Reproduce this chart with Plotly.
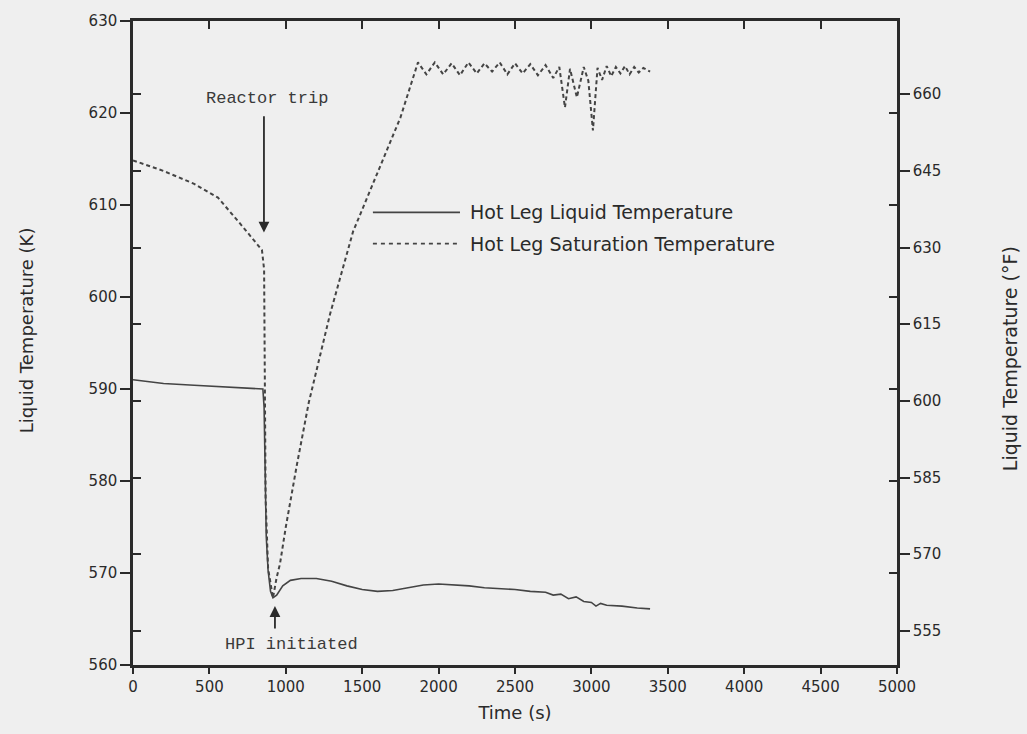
import plotly.graph_objects as go

# ---- data ----
liq_t = [0, 200, 400, 600, 850, 858, 864, 872, 884, 900, 916, 940, 980, 1030, 1100, 1200,
         1300, 1400, 1500, 1600, 1700, 1800, 1900, 2000, 2100, 2200, 2300, 2400, 2500, 2600,
         2700, 2750, 2800, 2850, 2900, 2950, 3000, 3030, 3060, 3100, 3200, 3300, 3384]
liq_k = [591.0, 590.6, 590.4, 590.2, 590.0, 588.0, 580.0, 574.0, 570.3, 568.0, 567.3, 567.6,
         568.6, 569.2, 569.4, 569.4, 569.1, 568.6, 568.2, 568.0, 568.1, 568.4, 568.7, 568.8,
         568.7, 568.6, 568.4, 568.3, 568.2, 568.0, 567.9, 567.6, 567.7, 567.2, 567.4, 566.9,
         566.8, 566.4, 566.7, 566.5, 566.4, 566.2, 566.1]

sat_t = [0, 200, 400, 556, 700, 844, 858, 862, 868, 884, 916, 940, 962, 1000, 1073, 1150,
         1289, 1440, 1600, 1750, 1865, 1920, 1975, 2030, 2085, 2140, 2195, 2250, 2300, 2350,
         2400, 2450, 2500, 2550, 2600, 2650, 2700, 2750, 2790, 2827, 2860, 2905, 2950, 2980,
         3010, 3040, 3070, 3100, 3130, 3160, 3190, 3220, 3250, 3280, 3310, 3340, 3384]
sat_k = [614.85, 613.7, 612.3, 610.8, 608.0, 605.1, 603.0, 590.0, 578.0, 570.5, 567.3, 569.5,
         571.0, 575.0, 581.8, 588.5, 598.1, 607.1, 613.5, 619.5, 625.5, 624.2, 625.5, 624.2,
         625.4, 624.1, 625.5, 624.3, 625.4, 624.5, 625.5, 624.2, 625.4, 624.3, 625.3, 624.1,
         625.2, 623.8, 625.0, 620.6, 624.8, 621.7, 625.0, 623.5, 618.1, 624.9, 623.6, 625.1,
         624.0, 625.0, 624.3, 625.1, 624.2, 625.0, 624.4, 624.9, 624.5]

x_range = [0, 5000]
k_range = [560, 630]
k_ticks = [560, 570, 580, 590, 600, 610, 620, 630]
f_ticks = [555, 570, 585, 600, 615, 630, 645, 660]
x_ticks = [0, 500, 1000, 1500, 2000, 2500, 3000, 3500, 4000, 4500, 5000]

def k_to_f(k):
    return (k - 273.15) * 1.8 + 32

f_range = [k_to_f(k_range[0]), k_to_f(k_range[1])]

BG = "#efefef"
INK = "#2a2a2a"
LINE = "#444444"
FONT = "DejaVu Sans"
MONO = "Liberation Mono"

fig = go.Figure()
fig.add_trace(go.Scatter(x=liq_t, y=liq_k, mode="lines", name="Hot Leg Liquid Temperature",
                         line=dict(color=LINE, width=1.6), showlegend=False))
fig.add_trace(go.Scatter(x=sat_t, y=sat_k, mode="lines", name="Hot Leg Saturation Temperature",
                         line=dict(color=LINE, width=2, dash="4px,3px"), showlegend=False))

common_axis = dict(showgrid=False, zeroline=False, showline=True, linecolor=INK, linewidth=2.5,
                   tickcolor=INK, tickwidth=1.5)

fig.update_layout(
    width=1027, height=734,
    margin=dict(l=133, r=130, t=18, b=69),
    paper_bgcolor=BG, plot_bgcolor=BG,
    font=dict(family=FONT, size=15, color=INK),
    showlegend=False,
    xaxis=dict(range=x_range, tickvals=x_ticks, ticks="outside", ticklen=6,
               title=dict(text="Time (s)", font=dict(size=18), standoff=12),
               tickfont=dict(size=15), **common_axis),
    xaxis2=dict(range=x_range, overlaying="x", side="top", tickvals=x_ticks, ticks="inside",
                ticklen=8, showticklabels=False, anchor="y", **common_axis),
    yaxis=dict(range=k_range, tickvals=k_ticks, ticks="outside", ticklen=10,
               tickfont=dict(size=15), **common_axis),
    yaxis2=dict(range=f_range, overlaying="y", side="right", anchor="x", tickvals=f_ticks,
                ticks="outside", ticklen=10, tickfont=dict(size=15), **common_axis),
    yaxis3=dict(range=f_range, overlaying="y", side="left", anchor="x", tickvals=f_ticks,
                ticks="inside", ticklen=8, showticklabels=False, **common_axis),
    yaxis4=dict(range=k_range, overlaying="y", side="right", anchor="x", tickvals=k_ticks,
                ticks="inside", ticklen=8, showticklabels=False, **common_axis),
)

# dummy traces so overlay axes render
fig.add_trace(go.Scatter(x=[None], y=[None], xaxis="x2", yaxis="y", showlegend=False, hoverinfo="skip"))
fig.add_trace(go.Scatter(x=[None], y=[None], xaxis="x", yaxis="y2", showlegend=False, hoverinfo="skip"))
fig.add_trace(go.Scatter(x=[None], y=[None], xaxis="x", yaxis="y3", showlegend=False, hoverinfo="skip"))
fig.add_trace(go.Scatter(x=[None], y=[None], xaxis="x", yaxis="y4", showlegend=False, hoverinfo="skip"))

# y axis titles as annotations (positioned like the reference)
fig.add_annotation(xref="paper", yref="paper", x=-0.14, y=0.52, xanchor="center",
                   text="Liquid Temperature (K)",
                   textangle=-90, showarrow=False, font=dict(size=18, color=INK))
fig.add_annotation(xref="paper", yref="paper", x=1.148, y=0.475, xanchor="center",
                   text="Liquid Temperature (°F)",
                   textangle=-90, showarrow=False, font=dict(size=19, color=INK))

# annotations with arrows
fig.add_annotation(x=857, y=607.0, ax=857, ay=619.8, axref="x", ayref="y",
                   showarrow=True, arrowhead=2, arrowsize=1.2, arrowwidth=1.8, arrowcolor=INK,
                   text="")
fig.add_annotation(x=880, y=621.6, text="Reactor trip", showarrow=False,
                   font=dict(family=MONO, size=17, color="#3a3a3a"))
fig.add_annotation(x=929, y=566.4, ax=929, ay=563.8, axref="x", ayref="y",
                   showarrow=True, arrowhead=2, arrowsize=1.2, arrowwidth=1.8, arrowcolor=INK,
                   text="")
fig.add_annotation(x=1040, y=562.2, text="HPI initiated", showarrow=False,
                   font=dict(family=MONO, size=17, color="#3a3a3a"))

# legend drawn manually
leg_x0, leg_x1 = 1570, 2140
leg_y1, leg_y2 = 609.2, 605.8
fig.add_shape(type="line", x0=leg_x0, x1=leg_x1, y0=leg_y1, y1=leg_y1,
              line=dict(color=LINE, width=1.6))
fig.add_shape(type="line", x0=leg_x0, x1=leg_x1, y0=leg_y2, y1=leg_y2,
              line=dict(color=LINE, width=1.6, dash="4px,4px"))
fig.add_annotation(x=2190, y=leg_y1, text="Hot Leg Liquid Temperature", showarrow=False,
                   xanchor="left", font=dict(size=19, color=INK))
fig.add_annotation(x=2190, y=leg_y2, text="Hot Leg Saturation Temperature", showarrow=False,
                   xanchor="left", font=dict(size=19, color=INK))

fig.write_html("out.html")
